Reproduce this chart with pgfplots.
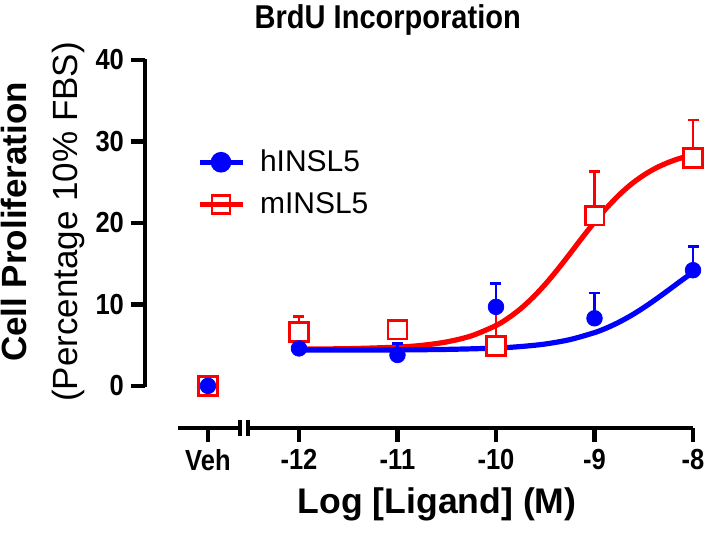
\documentclass[border=0pt]{standalone}
\usepackage{fontspec}
\setmainfont{Liberation Sans}
\usepackage{pgfplots}
\usepackage{pgfplotstable}
\pgfplotsset{compat=1.18}
\usetikzlibrary{calc}

% means and upward SEM, Veh plotted at x=-12.924 (left of the break)
\pgfplotstableread{
x y err
-12.924 0 0
-12 4.6 1.4
-11 3.8 1.4
-10 9.7 2.85
-9 8.3 3.1
-8 14.2 2.9
}\hdata
\pgfplotstableread{
x y err
-12.924 0 0
-12 6.6 1.9
-11 6.9 0
-10 4.9 5.0
-9 20.9 5.4
-8 28.0 4.6
}\mdata
% fitted curves
\pgfplotstableread{
x y
-12 4.52
-11.5 4.57
-11 4.76
-10.75 4.98
-10.5 5.40
-10.25 6.14
-10 7.41
-9.875 8.33
-9.75 9.47
-9.625 10.86
-9.5 12.47
-9.375 14.28
-9.25 16.21
-9.125 18.19
-9 20.10
-8.875 21.87
-8.75 23.44
-8.625 24.78
-8.5 25.87
-8.375 26.75
-8.25 27.43
-8.125 27.96
-8 28.36
}\mfit
\pgfplotstableread{
x y
-12 4.40
-11.5 4.41
-11 4.42
-10.5 4.48
-10 4.64
-9.75 4.83
-9.5 5.14
-9.25 5.68
-9 6.54
-8.875 7.12
-8.75 7.83
-8.625 8.66
-8.5 9.61
-8.375 10.65
-8.25 11.75
-8.125 12.87
-8 13.96
}\hfit

\newfontfamily\narrowfont[FakeStretch=0.88]{Liberation Sans}

\begin{document}
\begin{tikzpicture}
\begin{axis}[
    name=ax,
    scale only axis,
    width=274pt, height=184pt,
    xmin=-13.563, xmax=-8,
    ymin=-5.17, ymax=40,
    clip=false,
    axis x line*=bottom, axis y line*=left,
    axis line style={draw=none},
    tick align=outside,
    major tick length=7pt,
    tick style={black, line width=2.2pt},
    xtick={-12.924,-12,-11,-10,-9,-8},
    xticklabels={Veh,-12,-11,-10,-9,-8},
    ytick={0,10,20,30,40},
    /pgf/number format/assume math mode=true,
    ticklabel style={font=\narrowfont\bfseries\fontsize{14.5}{16}\selectfont},
    title={BrdU Incorporation},
    title style={font=\narrowfont\bfseries\fontsize{16.5}{19}\selectfont,
                 at={(axis description cs:0.443,1)}, anchor=base, yshift=10pt},
    xlabel={Log [Ligand] (M)},
    xlabel style={font=\bfseries\fontsize{17.8}{20}\selectfont,
                  at={(axis description cs:0.533,0)}, anchor=base, yshift=-42.5pt},
    ylabel={\textbf{Cell Proliferation}\\(Percentage 10\% FBS)},
    ylabel style={align=center, font=\fontsize{17.5}{25.5}\selectfont,
                  at={(axis description cs:-0.186,0.56)}, anchor=center},
    legend cell align=left,
    legend style={at={(axis cs:-13.1,30.0)}, anchor=north west,
                  draw=none, fill=none, font=\fontsize{15}{17}\selectfont,
                  row sep=5pt,
                  nodes={inner xsep=4pt},
                  /tikz/every odd column/.append style={column sep=3.5pt}},
    legend image code/.code={
      \draw[mark repeat=2,mark phase=2,#1] plot coordinates {(0pt,0pt) (10.75pt,0pt) (21.5pt,0pt)};},
  ]
  \addlegendimage{blue, line width=2.5pt, mark=*, mark size=3.9pt}
  \addlegendentry{hINSL5}
  \addlegendimage{red, line width=2.5pt, mark=square, mark size=4.5pt, mark options={line width=1.25pt}}
  \addlegendentry{mINSL5}

  % axis lines with the break
  \draw[line width=2.3pt] (axis cs:-13.563,-0.15) -- (axis cs:-13.563,40.15);
  \draw[line width=2.3pt] (axis cs:-13.228,-5.17) -- (axis cs:-12.599,-5.17);
  \draw[line width=2.3pt] (axis cs:-12.518,-5.17) -- (axis cs:-8,-5.17);
  \draw[line width=2.3pt] (axis cs:-12.599,-6.15) -- (axis cs:-12.599,-4.19);
  \draw[line width=2.3pt] (axis cs:-12.518,-6.15) -- (axis cs:-12.518,-4.19);

  % mINSL5: error bars masked inside the open squares, curve, squares
  \addplot[forget plot, red, only marks, mark=square*, mark size=4.3pt,
           mark options={draw=none, fill=white},
           error bars/.cd, y dir=plus, y explicit,
           error bar style={red, line width=1.2pt},
           error mark options={red, rotate=90, line width=1.2pt, mark size=2.75pt}]
    table[x=x, y=y, y error=err] {\mdata};
  \addplot[forget plot, red, line width=2.6pt, smooth] table[x=x, y=y] {\mfit};
  \addplot[forget plot, red, only marks, mark=square, mark size=4.75pt,
           mark options={line width=1.25pt, solid}]
    table[x=x, y=y] {\mdata};

  % hINSL5
  \addplot[forget plot, blue, line width=2.6pt, smooth] table[x=x, y=y] {\hfit};
  \addplot[forget plot, blue, only marks, mark=*, mark size=3.9pt,
           error bars/.cd, y dir=plus, y explicit,
           error bar style={blue, line width=1.2pt},
           error mark options={blue, rotate=90, line width=1.2pt, mark size=2.75pt}]
    table[x=x, y=y, y error=err] {\hdata};
\end{axis}
\pgfresetboundingbox
\path[use as bounding box] ($(ax.south west)+(-72.5pt,-52pt)$) rectangle ($(ax.north east)+(8pt,30pt)$);
\end{tikzpicture}
\end{document}
